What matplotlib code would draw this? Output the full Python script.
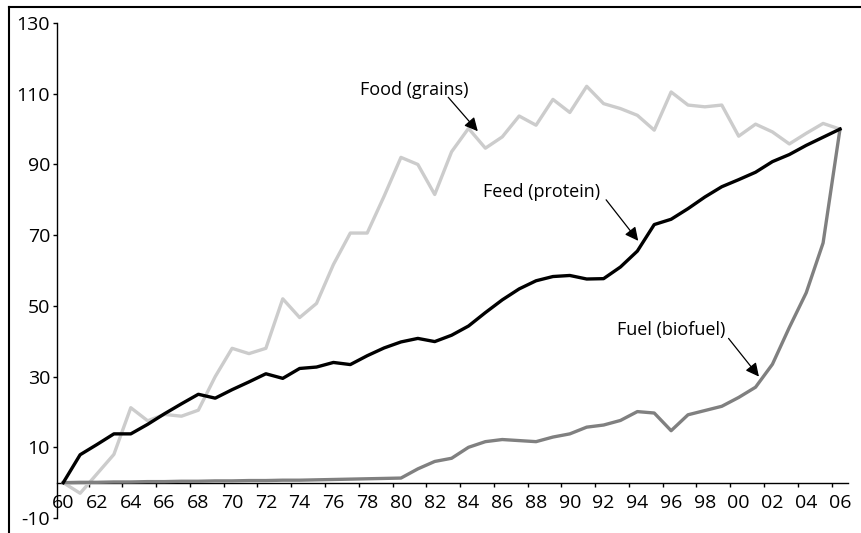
"""Food, feed and fuel demand index, 1960-2006."""

import matplotlib
matplotlib.use("Agg")
import matplotlib.pyplot as plt
from matplotlib.lines import Line2D

plt.rcParams["font.family"] = ["Open Sans", "DejaVu Sans"]
plt.rcParams["axes.unicode_minus"] = False

years = list(range(1960, 2007))
year_labels = ["60", "62", "64", "66", "68", "70", "72", "74", "76", "78",
               "80", "82", "84", "86", "88", "90", "92", "94", "96", "98",
               "00", "02", "04", "06"]

food = [0.0, -3.0, 2.5, 8.0, 21.2, 17.5, 19.3, 18.8, 20.5, 30.0,
        38.0, 36.5, 38.0, 52.0, 46.7, 50.7, 61.7, 70.6, 70.6, 81.0,
        92.0, 90.0, 81.5, 93.6, 100.2, 94.6, 97.8, 103.7, 101.1, 108.4,
        104.7, 112.1, 107.2, 105.8, 103.9, 99.7, 110.5, 106.8, 106.3, 106.8,
        98.0, 101.4, 99.2, 95.8, 98.8, 101.6, 100.0]

feed = [0.0, 7.9, 10.8, 13.8, 13.8, 16.5, 19.5, 22.3, 25.0, 23.9,
        26.3, 28.5, 30.8, 29.5, 32.3, 32.7, 34.0, 33.4, 35.9, 38.1,
        39.8, 40.8, 39.9, 41.7, 44.3, 48.1, 51.7, 54.8, 57.1, 58.3,
        58.6, 57.6, 57.7, 61.0, 65.5, 73.0, 74.5, 77.5, 80.8, 83.7,
        85.7, 87.8, 90.8, 92.8, 95.4, 97.7, 100.0]

fuel = [0.0, 0.1, 0.1, 0.2, 0.2, 0.3, 0.3, 0.4, 0.4, 0.5,
        0.5, 0.6, 0.6, 0.7, 0.7, 0.8, 0.9, 1.0, 1.1, 1.2,
        1.3, 3.9, 6.0, 6.9, 10.0, 11.6, 12.2, 11.9, 11.6, 12.9,
        13.8, 15.7, 16.3, 17.6, 20.1, 19.7, 14.7, 19.2, 20.4, 21.6,
        24.1, 27.0, 33.5, 43.9, 53.7, 67.8, 100.0]


def plot_chart():
    fig = plt.figure(figsize=(8.61, 5.33), dpi=100)
    ax = fig.add_axes([0.0662, 0.0281, 0.9188, 0.9287])

    ax.plot(years, food, color="#cccccc", linewidth=2.4, solid_joinstyle="round", zorder=3)
    ax.plot(years, fuel, color="#808080", linewidth=2.4, solid_joinstyle="round", zorder=4)
    ax.plot(years, feed, color="black", linewidth=2.4, solid_joinstyle="round", zorder=5)

    ax.set_xlim(1959.63, 2006.48)
    ax.set_ylim(-10, 130)

    # Spines: y axis at left, x axis crossing at zero
    ax.spines["top"].set_visible(False)
    ax.spines["right"].set_visible(False)
    ax.spines["bottom"].set_position(("data", 0))
    ax.spines["left"].set_linewidth(1.0)
    ax.spines["bottom"].set_linewidth(1.0)

    ax.set_yticks(range(-10, 131, 20))
    ax.tick_params(axis="y", direction="out", length=3, width=1, pad=2, labelsize=14)

    ax.set_xticks(years[::2])
    ax.set_xticklabels(year_labels)
    ax.set_xticks([y + 1.5 for y in years[:-1:2]], minor=True)
    ax.tick_params(axis="x", which="major", length=0, pad=8, labelsize=14)
    ax.tick_params(axis="x", which="minor", direction="out", length=3, width=1)

    # Labels with arrows
    arrow = dict(arrowstyle="-|>", color="black", lw=0.9, mutation_scale=20,
                 shrinkA=0, shrinkB=0)
    ax.text(1980.8, 111, "Food (grains)", ha="center", va="center", fontsize=13)
    ax.annotate("", xy=(1984.55, 99.4), xytext=(1982.8, 109), arrowprops=arrow)
    ax.text(1988.3, 82.3, "Feed (protein)", ha="center", va="center", fontsize=13)
    ax.annotate("", xy=(1994.05, 68.4), xytext=(1992.15, 80), arrowprops=arrow)
    ax.text(1996.0, 43.1, "Fuel (biofuel)", ha="center", va="center", fontsize=13)
    ax.annotate("", xy=(2001.2, 30.0), xytext=(1999.4, 40.8), arrowprops=arrow)

    # Outer frame (top and left edges visible)
    fig.add_artist(Line2D([9 / 861, 1.0], [1 - 7 / 533, 1 - 7 / 533],
                          color="black", linewidth=1.5, transform=fig.transFigure))
    fig.add_artist(Line2D([9 / 861, 9 / 861], [0.0, 1 - 7 / 533],
                          color="black", linewidth=1.5, transform=fig.transFigure))

    fig.savefig("out.png", dpi=100)


if __name__ == "__main__":
    plot_chart()
